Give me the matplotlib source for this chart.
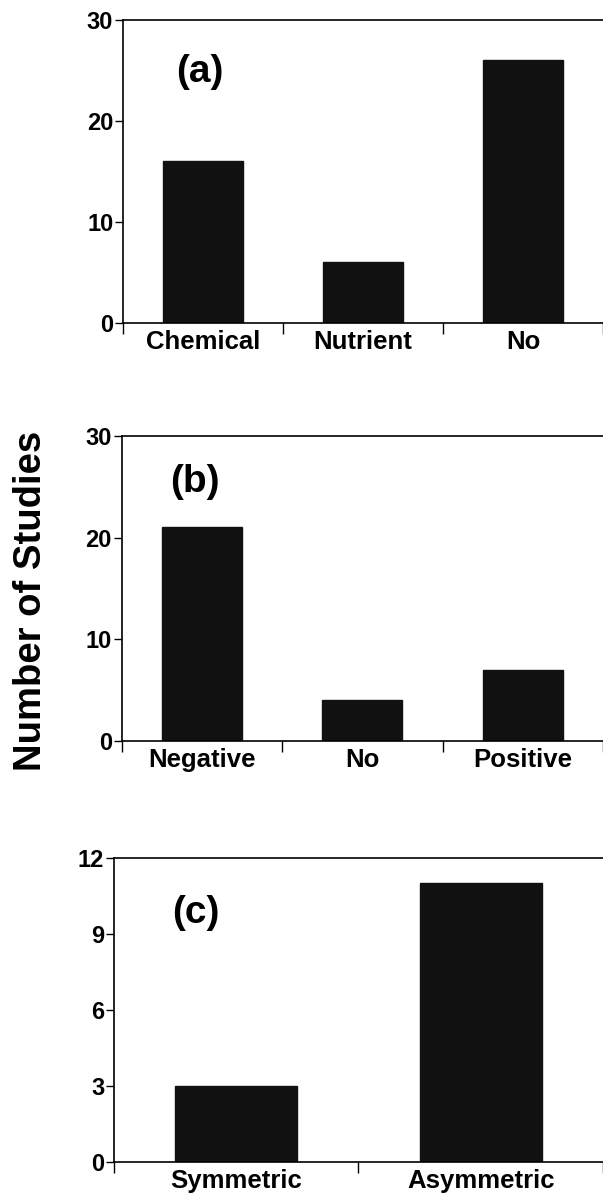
import matplotlib
matplotlib.use("Agg")
import matplotlib.pyplot as plt
from matplotlib.ticker import FixedLocator

plt.rcParams['font.family'] = ['Liberation Sans', 'DejaVu Sans']
plt.rcParams['font.weight'] = 'bold'

cats_a = ["Chemical", "Nutrient", "No"]
vals_a = [16, 6, 26]
cats_b = ["Negative", "No", "Positive"]
vals_b = [21, 4, 7]
cats_c = ["Symmetric", "Asymmetric"]
vals_c = [3, 11]

panels = [
    ("(a)", cats_a, vals_a, [0, 10, 20, 30], 30, [0.204, 0.7308, 0.796, 0.2525], (0.11, 0.83)),
    ("(b)", cats_b, vals_b, [0, 10, 20, 30], 30, [0.2015, 0.3825, 0.7985, 0.2542], (0.10, 0.85)),
    ("(c)", cats_c, vals_c, [0, 3, 6, 9, 12], 12, [0.189, 0.0317, 0.811, 0.2533], (0.118, 0.82)),
]

fig = plt.figure(figsize=(6.03, 12), dpi=100)
fig.patch.set_facecolor('white')

for label, cats, vals, yt, ymax, pos, lpos in panels:
    ax = fig.add_axes(pos)
    n = len(cats)
    x = [i + 0.5 for i in range(n)]
    ax.bar(x, vals, width=0.5, color='#111111', edgecolor='#111111')
    ax.set_xlim(0, n)
    ax.set_ylim(0, ymax)
    ax.set_yticks(yt)
    ax.set_yticklabels([str(v) for v in yt], fontsize=17, fontweight='bold')
    ax.xaxis.set_major_locator(FixedLocator(list(range(n + 1))))
    ax.xaxis.set_minor_locator(FixedLocator(x))
    ax.set_xticklabels([])
    ax.set_xticklabels(cats, minor=True, fontsize=18.5, fontweight='bold')
    ax.tick_params(axis='x', which='major', direction='out', length=8, width=1.0)
    ax.tick_params(axis='x', which='minor', length=0, pad=5)
    ax.tick_params(axis='y', direction='out', length=6, width=1.0, pad=1)
    ax.spines['right'].set_visible(False)
    for s in ['left', 'top', 'bottom']:
        ax.spines[s].set_linewidth(1.2)
    ax.text(lpos[0], lpos[1], label, transform=ax.transAxes, fontsize=28,
            fontweight='bold', va='center', ha='left')

fig.text(0.051, 0.499, "Number of Studies", rotation=90, fontsize=27.5,
         fontweight='bold', ha='center', va='center')

fig.savefig("out.png", dpi=100, facecolor='white')
